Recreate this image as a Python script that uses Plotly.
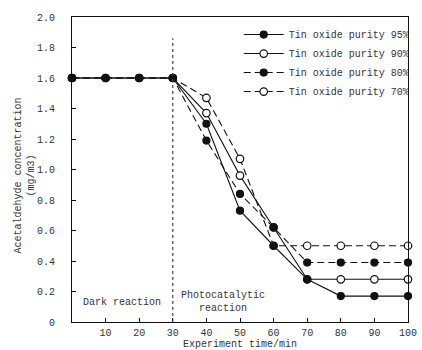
import plotly.graph_objects as go

time_min = [0, 10, 20, 30, 40, 50, 60, 70, 80, 90, 100]
purity_95 = [1.6, 1.6, 1.6, 1.6, 1.30, 0.73, 0.50, 0.28, 0.17, 0.17, 0.17]
purity_90 = [1.6, 1.6, 1.6, 1.6, 1.37, 0.96, 0.62, 0.28, 0.28, 0.28, 0.28]
purity_80 = [1.6, 1.6, 1.6, 1.6, 1.19, 0.84, 0.62, 0.39, 0.39, 0.39, 0.39]
purity_70 = [1.6, 1.6, 1.6, 1.6, 1.47, 1.07, 0.50, 0.50, 0.50, 0.50, 0.50]
names = ["Tin oxide purity 95%", "Tin oxide purity 90%",
         "Tin oxide purity 80%", "Tin oxide purity 70%"]
x_ticks = [10, 20, 30, 40, 50, 60, 70, 80, 90, 100]
y_ticks = [0, 0.2, 0.4, 0.6, 0.8, 1.0, 1.2, 1.4, 1.6, 1.8, 2.0]
y_ticktext = ["0", "0.2", "0.4", "0.6", "0.8", "1.0", "1.2", "1.4", "1.6", "1.8", "2.0"]

FONT = "Liberation Mono"
INK = "#111111"
TXT = "#333333"

fig = go.Figure()

def add(y, name, filled, dash, rank):
    fig.add_trace(go.Scatter(
        x=time_min, y=y, name=name, mode="lines+markers",
        line=dict(color=INK, width=1.1, dash=dash),
        marker=dict(symbol="circle", size=7 if filled else 7.5,
                    color=INK if filled else "white",
                    line=dict(color=INK, width=1.2)),
        legendrank=rank, cliponaxis=False))

# open markers first so filled are drawn on top
add(purity_90, names[1], False, "solid", 2)
add(purity_70, names[3], False, "7px,4px", 4)
add(purity_95, names[0], True, "solid", 1)
add(purity_80, names[2], True, "7px,4px", 3)

fig.add_shape(type="line", x0=30, x1=30, y0=0, y1=1.86, xref="x", yref="y",
              line=dict(color="#444", width=1.2, dash="dot"))

fig.add_annotation(x=15, y=0.13, text="Dark reaction", showarrow=False,
                   font=dict(family=FONT, size=10, color=TXT))
fig.add_annotation(x=45, y=0.13, text="Photocatalytic<br>reaction", showarrow=False,
                   font=dict(family=FONT, size=10, color=TXT))
fig.add_annotation(xref="paper", yref="paper", x=-0.14, y=0.48,
                   xanchor="center", yanchor="middle",
                   text="Acetaldehyde concentration<br>(mg/m3)", textangle=-90,
                   showarrow=False, font=dict(family=FONT, size=10, color=TXT))

fig.update_layout(
    width=422, height=350,
    margin=dict(l=72, r=7, t=17, b=28),
    paper_bgcolor="white", plot_bgcolor="white",
    font=dict(family=FONT, size=10, color=TXT),
    showlegend=True,
    legend=dict(x=1.02, y=0.99, xanchor="right", yanchor="top",
                bgcolor="rgba(0,0,0,0)", itemwidth=40,
                font=dict(family=FONT, size=10, color=TXT),
                tracegroupgap=0),
    xaxis=dict(range=[0, 100], tickvals=x_ticks, ticks="inside", ticklen=4,
               tickcolor=INK, showline=True, linecolor=INK, linewidth=1.2,
               mirror=True, showgrid=False, zeroline=False, automargin=False,
               ticklabeloverflow="allow", ticklabelstandoff=1,
               tickfont=dict(family=FONT, size=10, color=TXT),
               title=dict(text="Experiment time/min", standoff=7,
                          font=dict(family=FONT, size=10, color=TXT))),
    yaxis=dict(range=[0, 2.0], tickvals=y_ticks, ticktext=y_ticktext,
               ticks="inside", ticklen=4, tickcolor=INK, showline=True,
               linecolor=INK, linewidth=1.2, mirror=True, showgrid=False,
               zeroline=False, ticklabelstandoff=14, automargin=False,
               tickfont=dict(family=FONT, size=10, color=TXT)),
)

fig.write_html("out.html", config={"displayModeBar": False},
               post_script="document.body.style.margin='0';")
